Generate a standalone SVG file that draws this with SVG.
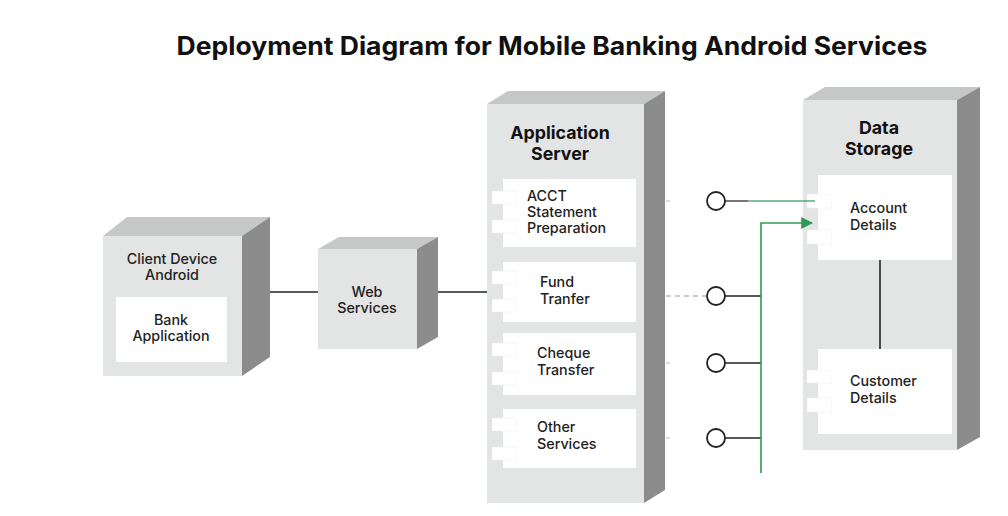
<svg xmlns="http://www.w3.org/2000/svg" width="1008" height="516" viewBox="0 0 1008 516">
<defs>
<style>
.front{fill:#e3e4e4}
.top{fill:#c6c7c7}
.side{fill:#8c8c8c}
.inner{fill:#ffffff}
.tab{fill:#ffffff;stroke:#ececec;stroke-width:0.5}
.t{font-family:Inter,"Noto Sans","Liberation Sans",sans-serif;font-size:14.3px;fill:#222;font-weight:500}
.h{font-family:Inter,"Noto Sans","Liberation Sans",sans-serif;font-size:17.8px;fill:#111;font-weight:700}
.title{font-family:Inter,"Noto Sans","Liberation Sans",sans-serif;font-size:25px;fill:#111;font-weight:700}
.ln{stroke:#222;stroke-width:1.6;fill:none}
.gr{stroke:#2e9a55;stroke-width:1.6;fill:none}
.circ{fill:#fff;stroke:#222;stroke-width:1.8}
.dash{stroke:#999;stroke-width:1.2;stroke-dasharray:5 4;fill:none}
</style>
<marker id="arr" viewBox="0 0 10 10" refX="9" refY="5" markerWidth="12" markerHeight="12" markerUnits="userSpaceOnUse" orient="auto">
<path d="M0,0 L10,5 L0,10 z" fill="#2e9a55"/>
</marker>
</defs>
<rect width="1008" height="516" fill="#fff"/>
<text class="title" x="552" y="55" text-anchor="middle" textLength="751" lengthAdjust="spacingAndGlyphs">Deployment Diagram for Mobile Banking Android Services</text>

<g id="client-device">
<polygon class="top" points="103,236 127,217 270,217 242,236"/>
<polygon class="side" points="242,236 270,217 270,357 242,376"/>
<rect class="front" x="103" y="236" width="139" height="140"/>
<text class="t" x="172" y="264" text-anchor="middle">Client Device</text>
<text class="t" x="172" y="280" text-anchor="middle">Android</text>
<g id="bank-application">
<rect class="inner" x="116" y="297" width="111" height="65"/>
<text class="t" x="171" y="325" text-anchor="middle">Bank</text>
<text class="t" x="171" y="341" text-anchor="middle">Application</text>
</g>
</g>

<g id="web-services">
<polygon class="top" points="318,249 339,237 438,237 417,249"/>
<polygon class="side" points="417,249 438,237 438,337 417,349"/>
<rect class="front" x="318" y="249" width="99" height="100"/>
<text class="t" x="367" y="297" text-anchor="middle">Web</text>
<text class="t" x="367" y="313" text-anchor="middle">Services</text>
</g>

<g id="application-server">
<polygon class="top" points="487,104 508,91 665,91 644,104"/>
<polygon class="side" points="644,104 665,91 665,490 644,503"/>
<rect class="front" x="487" y="104" width="157" height="399"/>
<text class="h" x="560" y="139" text-anchor="middle">Application</text>
<text class="h" x="560" y="160" text-anchor="middle">Server</text>
<g id="acct-statement">
<rect class="inner" x="503" y="179" width="133" height="68"/>
<rect class="tab" x="492" y="191" width="24" height="13"/>
<rect class="tab" x="492" y="220" width="24" height="13"/>
<text class="t" x="527" y="201">ACCT</text>
<text class="t" x="527" y="217">Statement</text>
<text class="t" x="527" y="233">Preparation</text>
</g>
<g id="fund-transfer">
<rect class="inner" x="503" y="262" width="133" height="60"/>
<rect class="tab" x="492" y="271" width="24" height="13"/>
<rect class="tab" x="492" y="299" width="24" height="13"/>
<text class="t" x="540" y="287">Fund</text>
<text class="t" x="540" y="304">Tranfer</text>
</g>
<g id="cheque-transfer">
<rect class="inner" x="503" y="333" width="133" height="62"/>
<rect class="tab" x="492" y="343" width="24" height="13"/>
<rect class="tab" x="492" y="372" width="24" height="13"/>
<text class="t" x="537" y="358">Cheque</text>
<text class="t" x="537" y="375">Transfer</text>
</g>
<g id="other-services">
<rect class="inner" x="503" y="409" width="133" height="59"/>
<rect class="tab" x="492" y="418" width="24" height="13"/>
<rect class="tab" x="492" y="447" width="24" height="13"/>
<text class="t" x="537" y="432">Other</text>
<text class="t" x="537" y="449">Services</text>
</g>
</g>

<g id="data-storage">
<polygon class="top" points="803,100 825,87 980,87 957,100"/>
<polygon class="side" points="957,100 980,87 980,437 957,450"/>
<rect class="front" x="803" y="100" width="154" height="350"/>
<text class="h" x="879" y="134" text-anchor="middle">Data</text>
<text class="h" x="879" y="155" text-anchor="middle">Storage</text>
<line class="ln" x1="880" y1="260" x2="880" y2="349"/>
<g id="account-details">
<rect class="inner" x="818" y="175" width="134" height="85"/>
<rect class="tab" x="807" y="194" width="24" height="14"/>
<rect class="tab" x="807" y="230" width="24" height="14"/>
<text class="t" x="850" y="213">Account</text>
<text class="t" x="850" y="230">Details</text>
</g>
<g id="customer-details">
<rect class="inner" x="818" y="349" width="134" height="85"/>
<rect class="tab" x="807" y="370" width="24" height="13"/>
<rect class="tab" x="807" y="398" width="24" height="14"/>
<text class="t" x="850" y="386">Customer</text>
<text class="t" x="850" y="403">Details</text>
</g>
</g>

<g id="connectors">
<line class="ln" x1="270" y1="292" x2="318" y2="292"/>
<line class="ln" x1="438" y1="292" x2="487" y2="292"/>
<line class="dash" x1="666" y1="296" x2="707" y2="296"/>
<line x1="666" y1="201" x2="670" y2="201" stroke="#bbb" stroke-width="1"/>
<line x1="666" y1="363" x2="670" y2="363" stroke="#bbb" stroke-width="1"/>
<line x1="666" y1="438" x2="670" y2="438" stroke="#bbb" stroke-width="1"/>
<line x1="725" y1="201" x2="748" y2="201" stroke="#666" stroke-width="1.8"/>
<line class="gr" x1="748" y1="201" x2="815" y2="201" stroke-opacity="0.8"/>
<line class="ln" x1="725" y1="296" x2="761" y2="296"/>
<line class="ln" x1="725" y1="363" x2="761" y2="363"/>
<line class="ln" x1="725" y1="438" x2="761" y2="438"/>
<polyline class="gr" points="761,473 761,223 812,223" marker-end="url(#arr)"/>
<circle class="circ" cx="716" cy="201" r="9"/>
<circle class="circ" cx="716" cy="296" r="9"/>
<circle class="circ" cx="716" cy="363" r="9"/>
<circle class="circ" cx="716" cy="438" r="9"/>
</g>
</svg>
